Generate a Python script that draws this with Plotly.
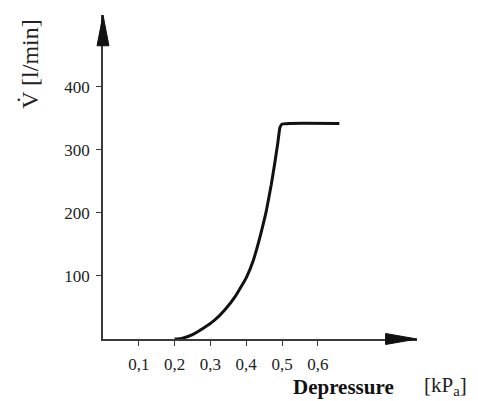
import plotly.graph_objects as go

# Data
pressure_kpa = [0.20, 0.22, 0.25, 0.28, 0.31, 0.34, 0.37, 0.40, 0.42, 0.44, 0.455,
                0.47, 0.48, 0.488, 0.494, 0.50, 0.52, 0.66]
flow_lpm = [0, 1, 7, 17, 29, 46, 68, 97, 125, 165, 200,
            245, 280, 310, 335, 341, 342, 342]

x_tick_vals = [0.1, 0.2, 0.3, 0.4, 0.5, 0.6]
x_tick_text = ["0,1", "0,2", "0,3", "0,4", "0,5", "0,6"]
y_tick_vals = [100, 200, 300, 400]
y_tick_text = ["100", "200", "300", "400"]

SERIF = "Liberation Serif, Times New Roman, serif"
AXIS_COLOR = "#3a3a3a"

fig = go.Figure()
fig.add_trace(go.Scatter(
    x=pressure_kpa, y=flow_lpm, mode="lines",
    line=dict(color="#111111", width=3, shape="spline", smoothing=0.3),
    hoverinfo="skip", showlegend=False,
))

# the page body has an 8px default margin, so the figure is 8px smaller
fig.update_layout(
    width=470, height=393,
    margin=dict(l=95, r=61, t=7, b=62),
    paper_bgcolor="white", plot_bgcolor="white",
    showlegend=False,
    xaxis=dict(
        range=[0, 0.877], showgrid=False, zeroline=False,
        showline=True, linecolor=AXIS_COLOR, linewidth=1.5,
        tickmode="array", tickvals=x_tick_vals, ticktext=x_tick_text,
        ticks="outside", ticklen=5, tickcolor=AXIS_COLOR, tickwidth=1.2,
        tickfont=dict(family=SERIF, size=17, color="#222"),
        ticklabelstandoff=4,
    ),
    yaxis=dict(
        range=[0, 514], showgrid=False, zeroline=False,
        showline=True, linecolor=AXIS_COLOR, linewidth=1.5,
        tickmode="array", tickvals=y_tick_vals, ticktext=y_tick_text,
        ticks="outside", ticklen=5, tickcolor=AXIS_COLOR, tickwidth=1.2,
        tickfont=dict(family=SERIF, size=17, color="#222"),
        ticklabelstandoff=3,
    ),
    shapes=[
        # x-axis arrowhead
        dict(type="path", xref="paper", yref="paper",
             path="M 0.90,0.017 L 1.0,0.0 L 0.90,-0.017 Z",
             fillcolor="#111", line=dict(color="#111", width=1)),
        # y-axis arrowhead
        dict(type="path", xref="paper", yref="paper",
             path="M -0.019,0.905 L 0.0,1.0 L 0.019,0.905 Z",
             fillcolor="#111", line=dict(color="#111", width=1)),
    ],
    annotations=[
        dict(text="V\u0307 [l/min]", xref="paper", yref="paper",
             x=-0.235, y=0.85, xanchor="center", yanchor="middle",
             textangle=-90, showarrow=False,
             font=dict(family=SERIF, size=24, color="#222")),
        dict(text="<b>Depressure</b>", xref="paper", yref="paper",
             x=0.765, y=-0.148, xanchor="center", yanchor="middle",
             showarrow=False,
             font=dict(family=SERIF, size=21, color="#111")),
        dict(text="[kP<sub>a</sub>]", xref="paper", yref="paper",
             x=1.015, y=-0.145, xanchor="left", yanchor="middle",
             showarrow=False,
             font=dict(family=SERIF, size=21, color="#222")),
    ],
)

fig.write_html("out.html")
